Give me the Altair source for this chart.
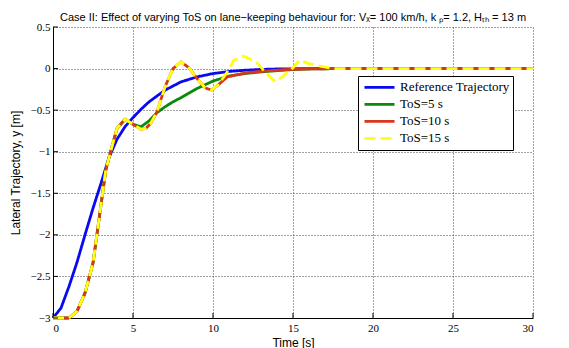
import altair as alt
import pandas as pd

series_names = ["Reference Trajectory", "ToS=5 s", "ToS=10 s", "ToS=15 s"]
series_colors = ["#0A0AF0", "#0A8A0A", "#D9361A", "#FFFF10"]
series_dash = [[1, 0], [1, 0], [1, 0], [11, 5]]

x_ticks = [0, 5, 10, 15, 20, 25, 30]
y_ticks = [-3, -2.5, -2, -1.5, -1, -0.5, 0, 0.5]

# Reference trajectory
ref_t = [0, 0.5, 1, 1.5, 2, 2.5, 3, 3.5, 4, 4.5, 5, 5.5, 6, 7, 8, 9, 10, 11, 12, 13, 14, 16, 20, 25, 30]
ref_y = [-3, -2.88, -2.62, -2.33, -2.0, -1.68, -1.38, -1.07, -0.85, -0.7, -0.59, -0.49, -0.4, -0.26,
         -0.16, -0.1, -0.06, -0.035, -0.02, -0.01, -0.005, 0, 0, 0, 0]

# shared part of the three ToS runs (t <= 5)
sh_t = [0, 1.0, 1.5, 2.0, 2.5, 2.8, 3.1, 3.3, 3.6, 4.0, 4.5, 5.0]
sh_y = [-3, -3, -2.92, -2.7, -2.34, -1.92, -1.5, -1.22, -1.0, -0.72, -0.61, -0.67]

# ToS=10 and ToS=15 shared part (5 < t < 10)
mid_t = [5.5, 5.8, 6.1, 6.5, 7.0, 7.5, 8.0, 8.5, 9.0, 9.5, 9.9]
mid_y = [-0.73, -0.72, -0.66, -0.52, -0.22, 0.0, 0.08, 0.01, -0.12, -0.23, -0.26]

# ToS=5 after switching
g_t = [5.5, 6.0, 6.5, 7.0, 7.5, 8.0, 9.0, 10.0, 11.0, 12.0, 13.0, 14.0, 15.0, 16.0, 18.0, 20, 25, 30]
g_y = [-0.70, -0.63, -0.53, -0.46, -0.40, -0.35, -0.24, -0.15, -0.09, -0.06, -0.04, -0.025, -0.012,
       -0.005, 0, 0, 0, 0]

# ToS=10 after switching
r_t = [10.3, 10.9, 11.7, 12.3, 13.6, 14.6, 16, 18, 20, 25, 30]
r_y = [-0.2, -0.1, -0.066, -0.045, -0.025, -0.012, -0.004, 0, 0, 0, 0]

# ToS=15 after t=10
yl_t = [10.3, 10.9, 11.3, 11.9, 12.7, 13.35, 13.9, 14.2, 15.0, 15.4, 16.0, 16.7, 17.5, 20, 25, 30]
yl_y = [-0.2, -0.04, 0.1, 0.15, 0.08, -0.06, -0.16, -0.12, 0.01, 0.1, 0.06, 0.03, 0.0, 0, 0, 0]

rows = []


def add(name, ts, ys):
    for t, y in zip(ts, ys):
        rows.append({"series": name, "t": t, "y": y})


add(series_names[0], ref_t, ref_y)
add(series_names[1], sh_t + g_t, sh_y + g_y)
add(series_names[2], sh_t + mid_t + r_t, sh_y + mid_y + r_y)
add(series_names[3], sh_t + mid_t + yl_t, sh_y + mid_y + yl_y)
df = pd.DataFrame(rows)

SERIF = "Liberation Serif"
SANS = "Liberation Sans"
XTITLE = "Time [s]"
YTITLE = "Lateral Trajectory, y [m]"

xscale = alt.Scale(domain=[0, 30], nice=False, zero=False)
yscale = alt.Scale(domain=[-3, 0.5], nice=False, zero=False)

xaxis = alt.Axis(values=x_ticks, format="~g", grid=True, gridDash=[1, 2], gridColor="#444",
                 gridWidth=1, ticks=False, domainColor="black", domainWidth=1,
                 labelFont=SERIF, labelFontSize=11, labelColor="black", labelPadding=4,
                 titleFont=SANS, titleFontSize=12, titleFontWeight="normal", titleColor="black",
                 titlePadding=4)
yaxis = alt.Axis(values=y_ticks, format="~g", grid=True, gridDash=[1, 2], gridColor="#444",
                 gridWidth=1, ticks=False, domainColor="black", domainWidth=1,
                 labelFont=SERIF, labelFontSize=11, labelColor="black", labelPadding=3,
                 titleFont=SANS, titleFontSize=12, titleFontWeight="normal", titleColor="black",
                 titlePadding=8)

legend = alt.Legend(orient="none", legendX=305, legendY=49, strokeColor="black", fillColor="white",
                    padding=3, symbolType="stroke", symbolSize=900, symbolStrokeWidth=2.8,
                    labelFont=SERIF, labelFontSize=13, labelColor="black", clipHeight=16.7,
                    labelOffset=4, symbolOffset=2, rowPadding=0, cornerRadius=0,
                    labelExpr="datum.label + '      '")

color = alt.Color("series:N", title=None,
                  scale=alt.Scale(domain=series_names, range=series_colors), legend=legend)
dash = alt.StrokeDash("series:N", title=None,
                      scale=alt.Scale(domain=series_names, range=series_dash), legend=legend)

base = alt.Chart(df).mark_line(strokeWidth=2.8, strokeCap="butt", strokeJoin="round").encode(
    x=alt.X("t:Q", scale=xscale, axis=xaxis, title=XTITLE),
    y=alt.Y("y:Q", scale=yscale, axis=yaxis, title=YTITLE),
    color=color,
    strokeDash=dash,
)

line_layers = [base.transform_filter(alt.datum.series == name) for name in series_names]

xt_df = pd.DataFrame({"tx": x_ticks})
yt_df = pd.DataFrame({"ty": y_ticks})

xtick_layer = alt.Chart(xt_df).mark_rule(color="black", strokeWidth=1).encode(
    x=alt.X("tx:Q", scale=xscale, axis=xaxis, title=XTITLE),
    y=alt.value(291), y2=alt.value(286))
ytick_layer = alt.Chart(yt_df).mark_rule(color="black", strokeWidth=1).encode(
    y=alt.Y("ty:Q", scale=yscale, axis=yaxis, title=YTITLE),
    x=alt.value(0), x2=alt.value(5))

title = "Case II: Effect of varying ToS on lane\u2212keeping behaviour for: V\u2093= 100 km/h, k \u209a= 1.2, H\u209c\u2095 = 13 m"

chart = alt.layer(*line_layers, xtick_layer, ytick_layer).properties(
    width=480, height=291,
    title=alt.TitleParams(title, font=SANS, fontSize=11, fontWeight="normal", color="black",
                          anchor="middle", offset=-2),
    padding={"left": 53, "top": 27, "right": 36, "bottom": 30},
    autosize=alt.AutoSizeParams(type="none"),
).configure_view(strokeWidth=0).configure_axis(labelFont=SERIF)

chart.save("out.html", embed_options={"renderer": "svg", "actions": False})
